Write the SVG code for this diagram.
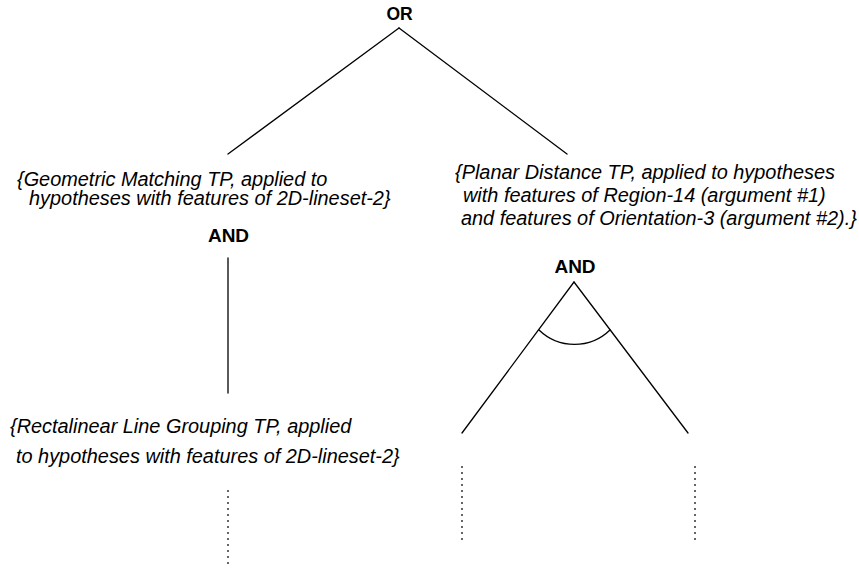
<svg xmlns="http://www.w3.org/2000/svg" width="859" height="571" viewBox="0 0 859 571">
  <style>
    .label { font-family: "Liberation Sans", Arial, sans-serif; font-style: italic; font-size: 19.9px; fill: #000; }
    .op { font-family: "Liberation Sans", Arial, sans-serif; font-weight: bold; fill: #000; text-anchor: middle; }
    .edge { stroke: #000; stroke-width: 1.3; fill: none; stroke-linecap: round; }
    .dots { stroke: #000; stroke-width: 1.2; fill: none; stroke-dasharray: 2 4; }
  </style>
  <rect width="859" height="571" fill="#fff"/>

  <!-- OR node -->
  <g id="or-node">
    <text class="op" x="399.5" y="19.5" font-size="17.5">OR</text>
  </g>

  <!-- Geometric Matching TP -->
  <g id="geometric-matching">
    <text class="label" x="17" y="185.5">{Geometric Matching TP, applied to</text>
    <text class="label" x="29" y="205">hypotheses with features of 2D-lineset-2}</text>
    <text class="op" x="228.5" y="242" font-size="19">AND</text>
  </g>

  <!-- Planar Distance TP -->
  <g id="planar-distance">
    <text class="label" x="455" y="179">{Planar Distance TP, applied to hypotheses</text>
    <text class="label" x="463" y="202">with features of Region-14 (argument #1)</text>
    <text class="label" x="461" y="225">and features of Orientation-3 (argument #2).}</text>
    <text class="op" x="575" y="273" font-size="19">AND</text>
  </g>

  <!-- Rectalinear Line Grouping TP -->
  <g id="line-grouping">
    <text class="label" x="10" y="433">{Rectalinear Line Grouping TP, applied</text>
    <text class="label" x="16" y="463">to hypotheses with features of 2D-lineset-2}</text>
  </g>

  <!-- connectors -->
  <g id="connectors">
    <path class="edge" d="M399,28 L228,154"/>
    <path class="edge" d="M399,28 L567,154"/>
    <path class="edge" d="M228,258 L228,393"/>
    <path class="edge" d="M574,282 L462,433"/>
    <path class="edge" d="M574,282 L688,433"/>
    <path class="edge" d="M539,330 A51,51 0 0 0 610,330"/>
    <path class="dots" d="M228,490 L228,568"/>
    <path class="dots" d="M462,466 L462,544"/>
    <path class="dots" d="M695,466 L695,544"/>
  </g>
</svg>
